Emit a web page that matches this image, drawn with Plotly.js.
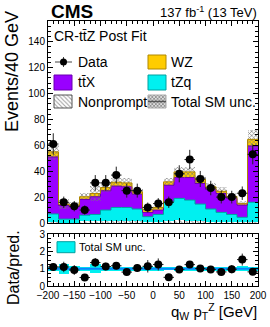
<!DOCTYPE html>
<html><head><meta charset="utf-8">
<script src="https://cdn.plot.ly/plotly-3.0.1.min.js"></script>
<style>html,body{margin:0;padding:0;background:#fff}#c{width:270px;height:327px}</style>
</head><body><div id="c"></div>
<script>
// ---- data ----
const binCenters = [-190,-170,-150,-130,-110,-90,-70,-50,-30,-10,10,30,50,70,90,110,130,150,170,190];
const nonprompt = [0.5,0.3,0.3,1.5,1.5,1.5,1.5,1.5,1.5,0.5,0.5,1.5,2,1.5,1.5,0.5,0.5,0.5,0.5,0.5];
const tZq = [6.5,2.7,2.7,4.5,5.1,8.5,10.5,10.5,9.3,4.4,6.1,14.9,17,16.2,13.1,10.3,7.7,6.1,3.9,15.5];
const ttX = [44,10.5,9.5,12.2,13.7,14.9,16.5,16,11.5,3.3,3.4,12.8,16.1,17.4,15.9,15.1,14.6,12.4,9.4,43.5];
const WZ = [4,1,1.5,2.1,2.5,2.5,3,3,1.8,2.3,2,2.6,4.4,4.4,3.1,2.1,1.7,1.5,1.2,5.1];
const totalUnc = [6,4,2,2.5,6,3.5,3.5,3.5,2.5,1.5,1.5,3,4,4,3.5,3,3,2.5,2,7];
const dataCounts = [61,16,13,10,31,31,37,25,25,12,15,16,38,49,34,27,20,20,23,53];
const dataErr = [8.3,4.4,4,3.6,6,6,6.5,5.4,5.4,3.8,4.2,4.4,6.6,7.5,6.2,5.6,4.9,4.9,5.2,7.7];
const xTicks = [-200,-150,-100,-50,0,50,100,150,200];
const yTicksMain = [0,20,40,60,80,100,120,140];
const yTicksRatio = [0,1,2,3];

// ---- geometry helpers ----
const W=270,H=327,ML=48,MR=12,MT=21,MB=41;
const HALF=10;
const fx = p => (p-ML)/(W-ML-MR);
const fy = p => (H-MB-p)/(H-MT-MB);
const FONT = 'Liberation Sans, Arial, Helvetica, sans-serif';

const add = (a,b)=>a.map((v,i)=>v+b[i]);
const base1 = nonprompt;
const base2 = add(base1,tZq);
const base3 = add(base2,ttX);
const total = add(base3,WZ);
const edges = binCenters.map(c=>c-HALF).concat([binCenters[binCenters.length-1]+HALF]);
const stepY = arr => arr.concat([arr[arr.length-1]]);

const COL = {cyan:'#00f0f0', purple:'#9900ff', gold:'#ffcc00'};

const traces = [];
function bar(y, base, color, extra) {
  return Object.assign({type:'bar', x:binCenters, y:y, base:base, width:2*HALF,
    marker:{color:color, line:{width:0}}, xaxis:'x', yaxis:'y', showlegend:false, hoverinfo:'skip'}, extra||{});
}
traces.push(bar(nonprompt, nonprompt.map(()=>0), '#ffffff',
  {marker:{color:'#ffffff', line:{width:0}, pattern:{shape:'\\', fgcolor:'#444', fillmode:'overlay', size:4, solidity:0.3}}}));
traces.push(bar(tZq, base1, COL.cyan));
traces.push(bar(ttX, base2, COL.purple));
traces.push(bar(WZ, base3, COL.gold));
// uncertainty band
traces.push({type:'bar', x:binCenters, y:totalUnc.map(u=>2*u), base:total.map((t,i)=>t-totalUnc[i]), width:2*HALF,
  marker:{color:'#777', line:{width:0}, pattern:{shape:'x', fgcolor:'#777', bgcolor:'rgba(0,0,0,0)', size:3, solidity:0.4, fillmode:'replace'}},
  xaxis:'x', yaxis:'y', showlegend:false, hoverinfo:'skip'});
// step outlines
[[base2,'#00a0a0'],[base3,'#6a00b0'],[total,'#b08800']].forEach(([arr,c])=>{
  traces.push({type:'scatter', mode:'lines', x:edges, y:stepY(arr), line:{shape:'hv', color:c, width:1},
    xaxis:'x', yaxis:'y', showlegend:false, hoverinfo:'skip'});
});
// data
traces.push({type:'scatter', mode:'markers', x:binCenters, y:dataCounts,
  marker:{color:'#000', size:8},
  error_y:{type:'data', array:dataErr, color:'#222', thickness:1, width:0},
  error_x:{type:'constant', value:HALF, color:'#222', thickness:1, width:0},
  xaxis:'x', yaxis:'y', showlegend:false, hoverinfo:'skip'});

// ratio panel
const relUnc = totalUnc.map((u,i)=>u/total[i]);
traces.push({type:'bar', x:binCenters, y:relUnc.map(r=>2*r), base:relUnc.map(r=>1-r), width:2*HALF,
  marker:{color:COL.cyan, line:{width:0}}, xaxis:'x2', yaxis:'y2', showlegend:false, hoverinfo:'skip'});
traces.push({type:'scatter', mode:'lines', x:[edges[0], edges[edges.length-1]], y:[1,1],
  line:{color:'#0a84ff', width:2}, xaxis:'x2', yaxis:'y2', showlegend:false, hoverinfo:'skip'});
traces.push({type:'scatter', mode:'markers', x:binCenters, y:dataCounts.map((d,i)=>d/total[i]),
  marker:{color:'#000', size:8},
  error_y:{type:'data', array:dataErr.map((e,i)=>e/total[i]), color:'#222', thickness:1, width:0},
  error_x:{type:'constant', value:HALF, color:'#222', thickness:1, width:0},
  xaxis:'x2', yaxis:'y2', showlegend:false, hoverinfo:'skip'});

// ---- custom legend on a pixel-space axis pair (x3/y3) ----
function lbox(cx, top, w, h, color, line, pattern) {
  const m = {color:color, line:{width:1, color:line}};
  if (pattern) m.pattern = pattern;
  return {type:'bar', x:[cx], y:[h], base:[top], width:w, marker:m, xaxis:'x3', yaxis:'y3', showlegend:false, hoverinfo:'skip'};
}
traces.push(lbox(157, 55, 18, 14, COL.gold, '#b08800'));
traces.push(lbox(63, 75, 18, 15, COL.purple, '#6a00b0'));
traces.push(lbox(157, 75, 18, 15, COL.cyan, '#00a0a0'));
traces.push(lbox(63, 95, 18, 13, '#ffffff', '#555', {shape:'\\', fgcolor:'#444', fillmode:'overlay', size:3, solidity:0.35}));
traces.push(lbox(157, 95, 18, 13, '#aaa', '#aaa', {shape:'x', fgcolor:'#666', bgcolor:'#ddd', size:2.5, solidity:0.4, fillmode:'replace'}));
traces.push({type:'scatter', mode:'lines', x:[148,166], y:[101.5,101.5], line:{color:'#555', width:1.5},
  xaxis:'x3', yaxis:'y3', showlegend:false, hoverinfo:'skip'});
traces.push({type:'scatter', mode:'markers', x:[63.5], y:[62], marker:{color:'#000', size:7},
  error_x:{type:'constant', value:8.5, color:'#444', thickness:1, width:0},
  error_y:{type:'constant', value:5, color:'#444', thickness:1, width:0},
  xaxis:'x3', yaxis:'y3', showlegend:false, hoverinfo:'skip'});
// ratio legend box
traces.push(lbox(66, 241.7, 18, 11, COL.cyan, '#00a0a0'));

const axBase = {showline:true, linecolor:'#000', linewidth:1, mirror:'allticks', ticks:'inside',
  ticklen:5, tickcolor:'#000', showgrid:false, zeroline:false, fixedrange:true,
  tickfont:{family:FONT, size:10, color:'#000'}};

const ann = [];
function txt(t, px, py, size, opts) {
  ann.push(Object.assign({text:t, x:fx(px), y:fy(py), xref:'paper', yref:'paper', showarrow:false,
    xanchor:'left', yanchor:'middle', font:{family:FONT, size:size, color:'#000'}}, opts||{}));
}
txt('<b>CMS</b>', 49, 11, 19);
txt('137 fb<sup>-1</sup> (13 TeV)', 259, 12, 13, {xanchor:'right'});
txt('CR-tt\u0304Z Post Fit', 52, 36, 14);
txt('Data', 76, 62, 14);
txt('WZ', 169, 62, 14);
txt('tt\u0304X', 76, 82.5, 14);
txt('tZq', 169, 82.5, 14);
txt('Nonprompt', 76, 101.5, 14);
txt('Total SM unc.', 169, 101.5, 14);
txt('Total SM unc.', 77, 247, 11);
txt('Events/40 GeV', 12, 72, 18, {xanchor:'center', textangle:-90});
txt('Data/pred.', 13, 268, 16, {xanchor:'center', textangle:-90});
txt('q<sub>W</sub> p<sub>T</sub><sup>Z</sup> [GeV]', 259, 311, 15, {xanchor:'right'});

const layout = {
  width:W, height:H, margin:{l:ML, r:MR, t:MT, b:MB, pad:0},
  paper_bgcolor:'#fff', plot_bgcolor:'rgba(0,0,0,0)',
  barmode:'overlay', bargap:0, showlegend:false,
  xaxis: Object.assign({}, axBase, {anchor:'y', domain:[0,1], range:[-200,200], tickvals:xTicks, showticklabels:false,
    minor:{dtick:10, ticks:'inside', ticklen:3, tickcolor:'#000'}}),
  yaxis: Object.assign({}, axBase, {anchor:'x', domain:[fy(223),1], range:[0,156], tickvals:yTicksMain,
    minor:{dtick:4, ticks:'inside', ticklen:3, tickcolor:'#000'}}),
  xaxis2: Object.assign({}, axBase, {anchor:'y2', domain:[0,1], range:[-200,200], tickvals:xTicks,
    minor:{dtick:10, ticks:'inside', ticklen:3, tickcolor:'#000'}}),
  yaxis2: Object.assign({}, axBase, {anchor:'x2', domain:[0,fy(234.3)], range:[0,3], tickvals:yTicksRatio,
    minor:{dtick:0.25, ticks:'inside', ticklen:3, tickcolor:'#000'}}),
  xaxis3: {anchor:'y3', domain:[0,1], range:[ML, W-MR], visible:false, fixedrange:true},
  yaxis3: {anchor:'x3', domain:[0,1], range:[H-MB, MT], visible:false, fixedrange:true},
  annotations: ann
};
Plotly.newPlot('c', traces, layout, {staticPlot:true, displayModeBar:false});
</script></body></html>
